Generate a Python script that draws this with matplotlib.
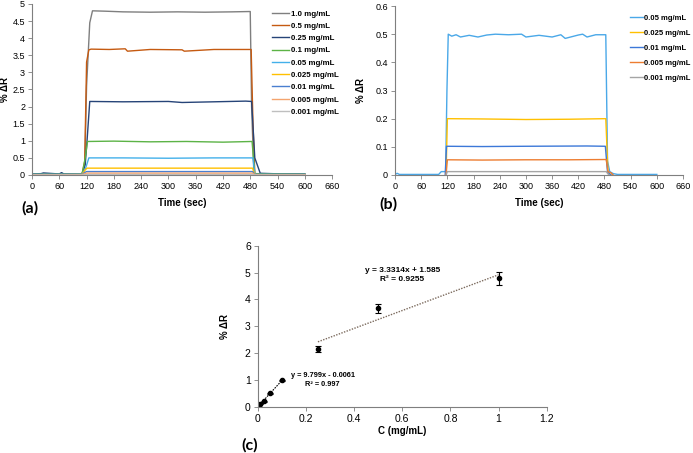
import numpy as np
import matplotlib.pyplot as plt
from matplotlib.ticker import MultipleLocator, FuncFormatter

plt.rcParams['font.family'] = ['Liberation Sans', 'DejaVu Sans']

# Panel (a): time (s) breakpoints and %dR values
a_labels = ['1.0 mg/mL', '0.5 mg/mL', '0.25 mg/mL', '0.1 mg/mL', '0.05 mg/mL',
            '0.025 mg/mL', '0.01 mg/mL', '0.005 mg/mL', '0.001 mg/mL']
a_colors = ['#7f7f7f', '#c55a11', '#264478', '#5cb346', '#43b0ea',
            '#ffc000', '#4a7fd0', '#f4a46e', '#bfbfbf']
a_t = [
    [0, 110, 116, 120, 127, 133, 160, 200, 260, 320, 380, 440, 480, 483, 488, 600],
    [0, 110, 116, 120, 125, 130, 170, 205, 210, 260, 330, 335, 400, 482, 486, 490, 600],
    [0, 20, 25, 60, 65, 70, 110, 117, 121, 127, 200, 300, 330, 400, 470, 483, 490, 502, 550, 600],
    [0, 110, 117, 122, 180, 260, 340, 420, 484, 490, 600],
    [0, 110, 118, 125, 200, 300, 400, 486, 490, 600],
    [0, 110, 117, 121, 300, 485, 490, 600],
    [0, 110, 117, 120, 300, 485, 490, 600],
    [0, 110, 117, 120, 300, 485, 490, 600],
    [0, 110, 117, 120, 300, 485, 490, 600],
]
a_v = [
    [0.02, 0.02, 0.3, 2.6, 4.45, 4.8, 4.79, 4.77, 4.76, 4.77, 4.76, 4.77, 4.78, 2.0, 0.03, 0.02],
    [0.02, 0.02, 0.4, 3.3, 3.66, 3.68, 3.67, 3.69, 3.62, 3.67, 3.66, 3.62, 3.67, 3.67, 1.5, 0.04, 0.02],
    [0.03, 0.04, 0.06, 0.03, 0.07, 0.03, 0.02, 0.3, 1.0, 2.15, 2.14, 2.15, 2.12, 2.14, 2.16, 2.15, 0.5, 0.05, 0.03, 0.03],
    [0.02, 0.02, 0.5, 0.98, 0.99, 0.97, 0.98, 0.96, 0.98, 0.03, 0.02],
    [0.02, 0.02, 0.2, 0.5, 0.5, 0.49, 0.5, 0.5, 0.02, 0.02],
    [0.01, 0.01, 0.15, 0.2, 0.2, 0.2, 0.01, 0.01],
    [0.01, 0.01, 0.08, 0.1, 0.1, 0.1, 0.01, 0.01],
    [0.01, 0.01, 0.04, 0.055, 0.055, 0.055, 0.01, 0.01],
    [0.0, 0.0, 0.01, 0.012, 0.012, 0.012, 0.0, 0.0],
]

# Panel (b)
b_labels = ['0.05 mg/mL', '0.025 mg/mL', '0.01 mg/mL', '0.005 mg/mL', '0.001 mg/mL']
b_colors = ['#4aa8e8', '#ffc000', '#3c78d8', '#ed7d31', '#a5a5a5']
b_t = [
    [0, 5, 10, 100, 106, 116, 119, 122, 130, 140, 150, 170, 190, 210, 230, 260, 290, 300,
     330, 360, 380, 390, 420, 430, 440, 460, 483, 487, 492, 500, 510, 600],
    [117, 120, 200, 300, 400, 483, 488, 495],
    [115, 118, 200, 300, 440, 482, 487, 495],
    [117, 120, 200, 300, 400, 484, 488, 495, 500],
    [117, 120, 300, 484, 490],
]
b_v = [
    [0.002, 0.006, 0.002, 0.002, 0.012, 0.012, 0.3, 0.5, 0.493, 0.498, 0.49, 0.496, 0.49,
     0.497, 0.5, 0.498, 0.5, 0.49, 0.496, 0.49, 0.498, 0.485, 0.497, 0.5, 0.49, 0.498,
     0.498, 0.05, 0.012, 0.005, 0.002, 0.002],
    [0.0, 0.2, 0.199, 0.197, 0.198, 0.2, 0.01, 0.0],
    [0.0, 0.102, 0.101, 0.102, 0.103, 0.102, 0.01, 0.0],
    [0.0, 0.054, 0.053, 0.054, 0.054, 0.055, 0.012, 0.008, 0.0],
    [0.0, 0.012, 0.012, 0.012, 0.0],
]

# Panel (c): calibration
c_conc = [0.001, 0.005, 0.01, 0.025, 0.05, 0.1, 0.25, 0.5, 1.0]
c_resp = [0.012, 0.055, 0.1, 0.2, 0.5, 0.98, 2.15, 3.67, 4.78]
c_err = [0.01, 0.01, 0.01, 0.01, 0.02, 0.03, 0.1, 0.17, 0.24]
fit_low = (9.799, -0.0061)
fit_high = (3.3314, 1.585)


def num_fmt(v, pos):
    return '%g' % round(v, 3)


def style_axes(ax):
    for s in ['top', 'right']:
        ax.spines[s].set_visible(False)
    for s in ['left', 'bottom']:
        ax.spines[s].set_color('#7f7f7f')
        ax.spines[s].set_linewidth(0.8)
    ax.tick_params(labelsize=6.5, length=3, width=0.6, color='#7f7f7f', pad=2)
    ax.yaxis.set_major_formatter(FuncFormatter(num_fmt))
    ax.xaxis.set_major_formatter(FuncFormatter(num_fmt))


fig = plt.figure(figsize=(6.93, 4.53), dpi=100)

# (a)
ax1 = fig.add_axes([0.0462, 0.6137, 0.433, 0.3775])
for t, v, c, lab in zip(a_t, a_v, a_colors, a_labels):
    ax1.plot(t, v, color=c, lw=1.0, label=lab)
ax1.set_xlim(0, 660)
ax1.set_ylim(0, 5)
ax1.xaxis.set_major_locator(MultipleLocator(60))
ax1.yaxis.set_major_locator(MultipleLocator(0.5))
style_axes(ax1)
ax1.set_xlabel('Time (sec)', fontsize=7, fontweight='bold', labelpad=5)
ax1.set_ylabel('% ΔR', fontsize=7, fontweight='bold')
ax1.yaxis.set_label_coords(-0.075, 0.5)
ax1.legend(loc='upper left', bbox_to_anchor=(0.388, 0.985), bbox_transform=fig.transFigure,
           frameon=False, prop={'weight': 'bold', 'size': 5.7},
           handlelength=2.1, handletextpad=0.3, labelspacing=0.6, borderaxespad=0)

# (b)
ax2 = fig.add_axes([0.570, 0.6137, 0.4156, 0.373])
for t, v, c, lab in zip(b_t, b_v, b_colors, b_labels):
    ax2.plot(t, v, color=c, lw=1.0, label=lab)
ax2.set_xlim(0, 660)
ax2.set_ylim(0, 0.6)
ax2.xaxis.set_major_locator(MultipleLocator(60))
ax2.yaxis.set_major_locator(MultipleLocator(0.1))
style_axes(ax2)
ax2.set_xlabel('Time (sec)', fontsize=7, fontweight='bold', labelpad=5)
ax2.set_ylabel('% ΔR', fontsize=7, fontweight='bold')
ax2.yaxis.set_label_coords(-0.1, 0.5)
ax2.legend(loc='upper left', bbox_to_anchor=(0.904, 0.975), bbox_transform=fig.transFigure,
           frameon=False, prop={'weight': 'bold', 'size': 5.5},
           handlelength=1.7, handletextpad=0.2, labelspacing=1.0, borderaxespad=0)

# (c)
ax3 = fig.add_axes([0.3719, 0.1022, 0.417, 0.3554])
x_low = np.array([0, 0.1])
ax3.plot(x_low, fit_low[0] * x_low + fit_low[1], color='black', lw=0.8, ls=(0, (1.5, 1)))
x_high = np.array([0.25, 1.0])
ax3.plot(x_high, fit_high[0] * x_high + fit_high[1], color='#7b6a5d', lw=1.0, ls=(0, (1, 1)))
ax3.errorbar(c_conc, c_resp, yerr=c_err, fmt='o', color='black', ms=3, elinewidth=0.8,
             capsize=2, capthick=0.8)
ax3.set_xlim(0, 1.2)
ax3.set_ylim(0, 6)
ax3.xaxis.set_major_locator(MultipleLocator(0.2))
ax3.yaxis.set_major_locator(MultipleLocator(1))
style_axes(ax3)
ax3.tick_params(labelsize=7.5)
ax3.set_xlabel('C (mg/mL)', fontsize=7, fontweight='bold', labelpad=2)
ax3.set_ylabel('% ΔR', fontsize=7, fontweight='bold')
ax3.yaxis.set_label_coords(-0.095, 0.5)
ax3.text(0.6, 4.9, 'y = %.4fx + %.3f\nR² = 0.9255' % fit_high, fontsize=6,
         fontweight='bold', ha='center', va='center', linespacing=1.3)
ax3.text(0.27, 1.0, 'y = %.3fx - %.4f\nR² = 0.997' % (fit_low[0], -fit_low[1]), fontsize=5.3,
         fontweight='bold', ha='center', va='center', linespacing=1.4)

# panel letters
fig.text(0.031, 0.541, '(a)', fontsize=11.5, fontweight='bold', family='Lato', va='center')
fig.text(0.547, 0.549, '(b)', fontsize=11.5, fontweight='bold', family='Lato', va='center')
fig.text(0.348, 0.018, '(c)', fontsize=11.5, fontweight='bold', family='Lato', va='center')

fig.savefig('out.png', dpi=100)
